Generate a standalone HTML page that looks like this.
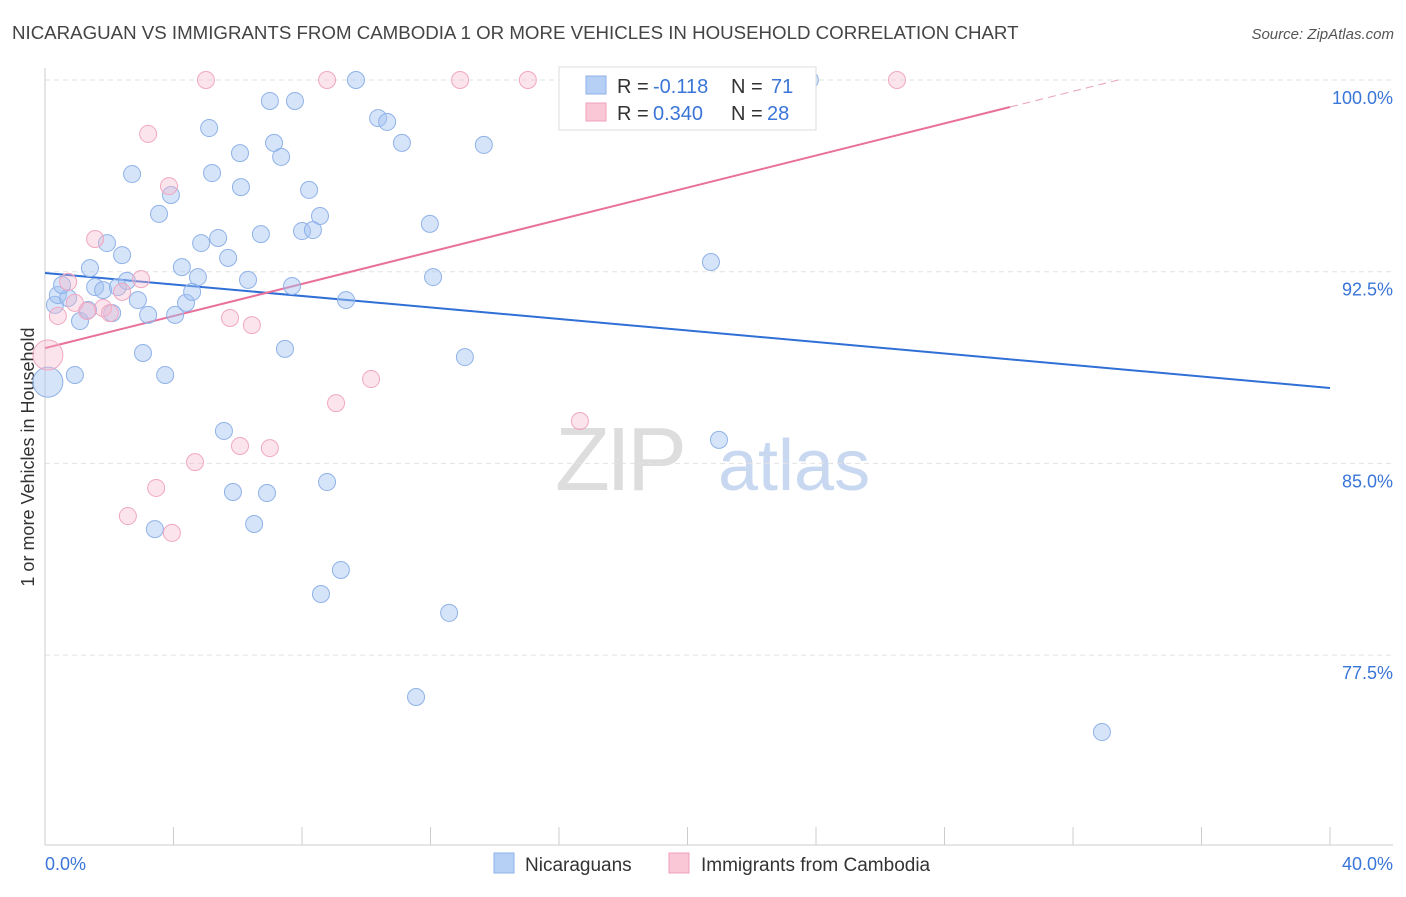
<!DOCTYPE html>
<html><head><meta charset="utf-8"><style>
body{margin:0;background:#fff;font-family:"Liberation Sans",sans-serif}
svg text{font-family:"Liberation Sans",sans-serif}
</style></head><body>
<svg id="chart" width="1406" height="892" xmlns="http://www.w3.org/2000/svg">
<text x="12" y="39" font-size="18.7" fill="#444">NICARAGUAN VS IMMIGRANTS FROM CAMBODIA 1 OR MORE VEHICLES IN HOUSEHOLD CORRELATION CHART</text>
<text x="1394" y="39" font-size="15" fill="#555" text-anchor="end" font-style="italic">Source: ZipAtlas.com</text>
<text transform="translate(34,457) rotate(-90)" font-size="18" fill="#333" text-anchor="middle">1 or more Vehicles in Household</text>
<g><text x="555" y="490" font-size="90" fill="#ddd" font-family="Liberation Serif" letter-spacing="-4">ZIP</text><text x="718" y="490" font-size="72" fill="#c8d8f0">atlas</text></g>
<g id="grid"></g><g id="axes"></g><g id="lines"></g><g id="pts"></g>
<g>
<rect x="559" y="67" width="257" height="63" fill="#fff" stroke="#ddd"/>
<rect x="586" y="76" width="20" height="18" fill="#b5cff5" stroke="#8fb2e8"/>
<text x="617" y="93" font-size="20" fill="#333">R =</text>
<text x="653" y="93" font-size="20" fill="#3a75d8">-0.118</text>
<text x="731" y="93" font-size="20" fill="#333">N =</text>
<text x="771" y="93" font-size="20" fill="#3a75d8">71</text>
<rect x="586" y="103" width="20" height="18" fill="#f9c7d6" stroke="#f0a0bb"/>
<text x="617" y="120" font-size="20" fill="#333">R =</text>
<text x="653" y="120" font-size="20" fill="#3a75d8">0.340</text>
<text x="731" y="120" font-size="20" fill="#333">N =</text>
<text x="767" y="120" font-size="20" fill="#3a75d8">28</text>
</g>
<g>
<rect x="494" y="853" width="20" height="20" fill="#b5cff5" stroke="#8fb2e8"/>
<text x="525" y="871" font-size="19" fill="#333">Nicaraguans</text>
<rect x="669" y="853" width="20" height="20" fill="#f9c7d6" stroke="#f0a0bb"/>
<text x="701" y="871" font-size="19" fill="#333">Immigrants from Cambodia</text>
</g>
</svg>
<script>
const yTicks=[100,92.5,85,77.5];
const yTickLabels=["100.0%","92.5%","85.0%","77.5%"];
const xTickLabels=["0.0%","40.0%"];
const blueX=[0.31,0.40,0.72,0.53,0.93,1.09,1.34,1.40,1.56,1.81,1.93,2.09,2.27,2.40,2.55,2.71,2.89,3.05,3.21,3.42,3.55,3.74,3.92,4.05,4.26,4.39,4.58,4.76,4.86,5.11,5.20,5.39,5.57,5.70,5.85,6.07,6.10,6.32,6.51,6.72,6.91,7.00,7.13,7.35,7.47,7.69,7.78,8.00,8.22,8.34,8.56,8.59,8.78,9.21,9.37,9.68,10.37,10.65,11.11,11.55,11.98,12.08,12.58,13.07,13.66,19.46,20.73,20.98,23.81,32.90,0.09];
const blueY=[91.20,91.59,91.47,91.98,88.46,90.57,91.00,92.64,91.90,91.78,93.62,90.88,91.90,93.15,92.14,96.32,91.39,89.32,90.81,82.43,94.76,88.46,95.50,90.81,92.68,91.28,91.71,92.29,93.62,98.12,96.36,93.82,86.27,93.04,83.88,97.14,95.81,92.18,82.63,93.97,83.84,99.18,97.54,96.99,89.48,91.94,99.18,94.09,95.70,94.13,94.68,79.89,84.27,80.83,91.39,100,98.51,98.36,97.54,75.86,94.37,92.29,79.15,89.16,97.46,100,92.88,85.92,100,74.49,88.18];
const pinkX=[0.09,0.40,0.72,0.93,1.31,1.56,1.81,2.02,2.40,2.58,2.99,3.21,3.46,3.86,3.95,4.67,5.01,5.76,6.07,6.44,7.00,8.78,9.06,10.15,12.92,15.03,16.65,26.52];
const pinkY=[89.24,90.77,92.10,91.28,90.96,93.78,91.08,90.88,91.71,82.94,92.21,97.89,84.04,95.85,82.28,85.05,100,90.69,85.68,90.41,85.60,100,87.36,88.30,100,100,86.66,100];
const blueLine=[92.45,87.95];
const pinkLine=[89.51,0.314];
const NS="http://www.w3.org/2000/svg";
const sx=v=>45+v/40*1285, sy=v=>80+(100-v)/7.5*191.7;
function mk(p,t,a){const e=document.createElementNS(NS,t);for(const k in a)e.setAttribute(k,a[k]);document.getElementById(p).appendChild(e);return e;}
yTicks.forEach((t,i)=>{
 const l=mk('grid','line',{x1:45,x2:1393,y1:sy(t),y2:sy(t),stroke:'#e2e2e2','stroke-dasharray':'5,4'});
 
 
 const tx=mk('axes','text',{x:1393,y:sy(t)+24,'font-size':18,fill:'#3a75d8','text-anchor':'end'});
 tx.textContent=yTickLabels[i];
 
 
});
let a=mk('axes','line',{x1:45,x2:45,y1:68,y2:845,stroke:'#ccc'});


a=mk('axes','line',{x1:45,x2:1393,y1:845,y2:845,stroke:'#ccc'});


for(let i=0;i<=10;i++){const t=mk('axes','line',{x1:sx(i*4),x2:sx(i*4),y1:827,y2:845,stroke:'#ccc'});
 
 }
[[0,'start',45],[1,'end',1393]].forEach(([i,an,x])=>{const t=mk('axes','text',{x:x,y:870,'font-size':18,fill:'#3a75d8','text-anchor':an});t.textContent=xTickLabels[i];
 
 });
function pt(x,y,big,c){const e=mk('pts','circle',{cx:sx(x),cy:sy(y),r:big?15:8.5,fill:c?'rgba(165,195,242,0.45)':'rgba(246,185,205,0.38)',stroke:c?'#8fb2e8':'#f0a8c0','stroke-width':1});return e;}
blueX.forEach((x,i)=>{const e=pt(x,blueY[i],i===blueX.length-1,true);
 
 });
pinkX.forEach((x,i)=>{const e=pt(x,pinkY[i],i===0,false);
 
 });
let l=mk('lines','line',{x1:sx(0),y1:sy(blueLine[0]),x2:sx(40),y2:sy(blueLine[1]),stroke:'#2f6fd6','stroke-width':2});


const xe=30.04, xd=(100-pinkLine[0])/pinkLine[1];
l=mk('lines','line',{x1:sx(0),y1:sy(pinkLine[0]),x2:sx(xe),y2:sy(pinkLine[0]+pinkLine[1]*xe),stroke:'#e8709a','stroke-width':2});


l=mk('lines','line',{x1:sx(xe),y1:sy(pinkLine[0]+pinkLine[1]*xe),x2:sx(xd),y2:sy(100),stroke:'#e8a0b8','stroke-width':1,'stroke-dasharray':'8,5'});


</script>
</body></html>
